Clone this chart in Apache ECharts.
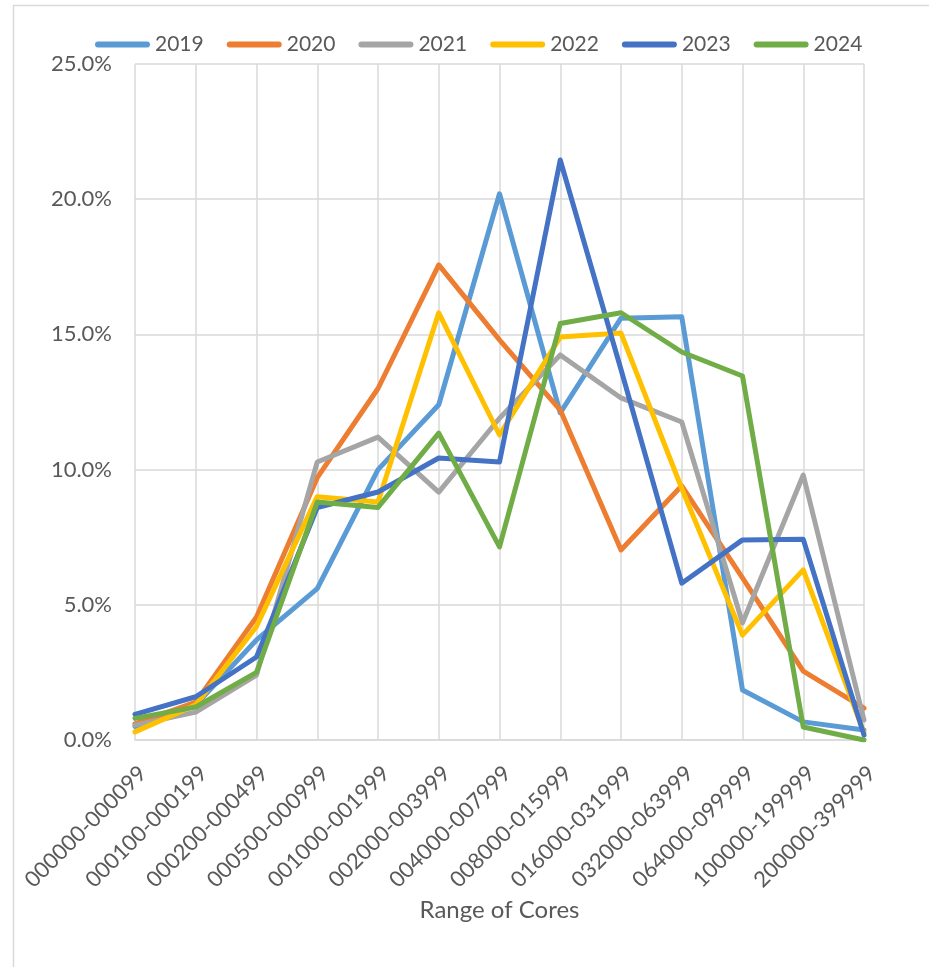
<!DOCTYPE html>
<html>
<head>
<meta charset="utf-8">
<title>Range of Cores</title>
<script src="https://cdn.jsdelivr.net/npm/echarts@6/dist/echarts.min.js"></script>
<style>
  html, body { margin: 0; padding: 0; background: #ffffff; }
  #chart { width: 929px; height: 967px; }
</style>
</head>
<body>
<div id="chart"></div>
<script>
// Core-count buckets on the x axis
const categories = [
  '000000-000099', '000100-000199', '000200-000499', '000500-000999',
  '001000-001999', '002000-003999', '004000-007999', '008000-015999',
  '016000-031999', '032000-063999', '064000-099999', '100000-199999',
  '200000-399999'
];

// Share of systems per bucket, in percent
const years = ['2019', '2020', '2021', '2022', '2023', '2024'];
const share2019 = [0.5, 1.3, 3.7, 5.6, 10.0, 12.4, 20.2, 12.1, 15.6, 15.65, 1.85, 0.67, 0.37];
const share2020 = [0.6, 1.4, 4.55, 9.7, 13.0, 17.57, 14.8, 12.2, 7.03, 9.4, 6.0, 2.55, 1.18];
const share2021 = [0.55, 1.03, 2.4, 10.28, 11.2, 9.17, 11.9, 14.24, 12.65, 11.76, 4.33, 9.8, 0.74];
const share2022 = [0.3, 1.3, 4.2, 9.0, 8.8, 15.8, 11.28, 14.9, 15.05, 9.3, 3.88, 6.29, 0.26];
const share2023 = [0.95, 1.6, 3.07, 8.6, 9.17, 10.43, 10.28, 21.45, 13.7, 5.8, 7.4, 7.42, 0.18];
const share2024 = [0.8, 1.22, 2.5, 8.8, 8.6, 11.35, 7.14, 15.4, 15.8, 14.35, 13.46, 0.48, 0.0];

// y-axis ticks (percent)
const yMin = 0, yMax = 25, yStep = 5;

const seriesData = [share2019, share2020, share2021, share2022, share2023, share2024];
const colors = ['#5B9BD5', '#ED7D31', '#A5A5A5', '#FFC000', '#4472C4', '#70AD47'];

const FONT = 'Lato, "Open Sans", sans-serif';
const TEXT = '#595959';
const GRID = '#D9D9D9';

const chart = echarts.init(document.getElementById('chart'), null, { renderer: 'canvas' });

chart.setOption({
  animation: false,
  backgroundColor: '#ffffff',
  color: colors,
  textStyle: { fontFamily: FONT, color: TEXT },
  graphic: [{
    type: 'rect',
    left: 11, top: 3,
    shape: { width: 940, height: 990 },
    style: { fill: 'none', stroke: GRID, lineWidth: 1.5 },
    silent: true
  }],
  legend: {
    data: years,
    left: 90,
    top: 29,
    itemWidth: 55,
    itemHeight: 6,
    itemGap: 23,
    icon: 'path://M3,0 L52,0 A3,3 0 0 1 52,6 L3,6 A3,3 0 0 1 3,0 Z',
    textStyle: { fontFamily: FONT, fontSize: 21, color: TEXT }
  },
  grid: { left: 135, right: 65, top: 64, bottom: 227, containLabel: false },
  xAxis: {
    type: 'category',
    data: categories,
    boundaryGap: false,
    name: 'Range of Cores',
    nameLocation: 'middle',
    nameGap: 157,
    nameTextStyle: { fontFamily: FONT, fontSize: 24, color: TEXT },
    axisLine: { show: true, lineStyle: { color: GRID, width: 1.5 } },
    axisTick: { show: false },
    splitLine: { show: true, lineStyle: { color: GRID, width: 1.5 } },
    axisLabel: {
      rotate: 45,
      interval: 0,
      margin: 22,
      align: 'right',
      verticalAlign: 'top',
      fontFamily: FONT,
      fontSize: 22,
      color: TEXT
    }
  },
  yAxis: {
    type: 'value',
    min: yMin,
    max: yMax,
    interval: yStep,
    axisLine: { show: false },
    axisTick: { show: false },
    splitLine: { show: true, lineStyle: { color: GRID, width: 1.5 } },
    axisLabel: {
      margin: 23,
      fontFamily: FONT,
      fontSize: 22,
      color: TEXT,
      formatter: v => v.toFixed(1) + '%'
    }
  },
  series: years.map((y, i) => ({
    name: y,
    type: 'line',
    data: seriesData[i],
    symbol: 'none',
    lineStyle: { width: 5, color: colors[i], cap: 'round', join: 'round' },
    itemStyle: { color: colors[i] }
  }))
});
</script>
</body>
</html>
